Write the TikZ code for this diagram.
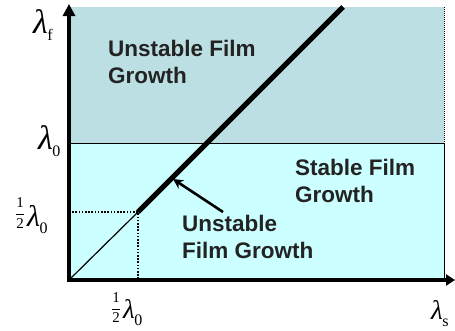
\documentclass[tikz,border=0pt]{standalone}
\usepackage{fix-cm}
\usepackage{fontspec}
\setsansfont{Liberation Sans}
\newfontfamily\grk{Liberation Serif}
\usetikzlibrary{arrows.meta}
\definecolor{topfill}{RGB}{187,223,227}
\definecolor{botfill}{RGB}{204,255,255}
\definecolor{txt}{RGB}{35,35,35}
\newcommand{\mylam}[2][34]{{\grk\itshape\fontsize{#1}{#1}\selectfont λ}\kern-0.5pt\raisebox{-7pt}{\grk\fontsize{16}{16}\selectfont #2}}
\newcommand{\myhalf}[1][8pt]{\raisebox{#1}{\fontsize{15}{15}\selectfont$\displaystyle\frac{\hbox{\grk 1}}{\hbox{\grk 2}}$}}
\tikzset{
  region/.style={font=\sffamily\bfseries\fontsize{22.5}{27}\selectfont, text=txt, align=left, inner sep=0pt, anchor=north west},
  axislabel/.style={inner sep=0pt, anchor=base west},
  axisline/.style={line width=3.5pt, -{Triangle[length=12pt,width=12pt]}},
}
\begin{document}
\begin{tikzpicture}[x=1pt,y=-1pt]
\useasboundingbox (0,0) rectangle (455,330);
% regions
\fill[topfill] (69,7) rectangle (444,143);
\filldraw[fill=botfill, draw=black, line width=0.8pt] (69,143) rectangle (444,280);
\draw[line width=0.5pt, dash pattern=on 1pt off 1pt] (444,7) -- (444,143);
% key points
\coordinate (O) at (69,280);
\coordinate (H) at (138,212);
\coordinate (T) at (343,7);
\coordinate (Hy) at (69,212);
\coordinate (Hx) at (138,280);
\coordinate (Ytop) at (69,4);
\coordinate (Xend) at (455,280);
% dotted guides
\draw[line width=1.6pt, dash pattern=on 1.6pt off 1.6pt] (Hy) -- (H) -- (Hx);
% boundary line
\draw[line width=1.2pt] (O) -- (H);
\draw[line width=5pt] (H) -- (T);
% axes
\draw[axisline] ([yshift=1.75pt]O) -- (Ytop);
\draw[line width=3.5pt, -{Triangle[length=9pt,width=11pt]}] ([xshift=-1.75pt]O) -- (Xend);
% texts
\node[region] (unstTop) at (108,40) {Unstable Film\\Growth};
\node[region] (stable) at (295,158.5) {Stable Film\\Growth};
\node[region] (unstLow) at (182,214.5) {Unstable\\Film Growth};
\coordinate (tip) at (173,179);
\draw[line width=2.6pt, -{Stealth[length=10pt,width=10pt]}] (223,212) -- (tip);
% axis labels
\node[axislabel] (lf) at (33,33) {\mylam{f}};
\node[axislabel] (l0) at (38,149) {\mylam{0}};
\node[axislabel] (hl0y) at (15,226) {\myhalf\kern2pt\mylam[30]{0}};
\node[axislabel] (hl0x) at (111,318) {\myhalf[5.5pt]\kern2pt\mylam[27]{0}};
\node[axislabel] (ls) at (431,319) {\mylam[27]{s}};
\end{tikzpicture}
\end{document}
